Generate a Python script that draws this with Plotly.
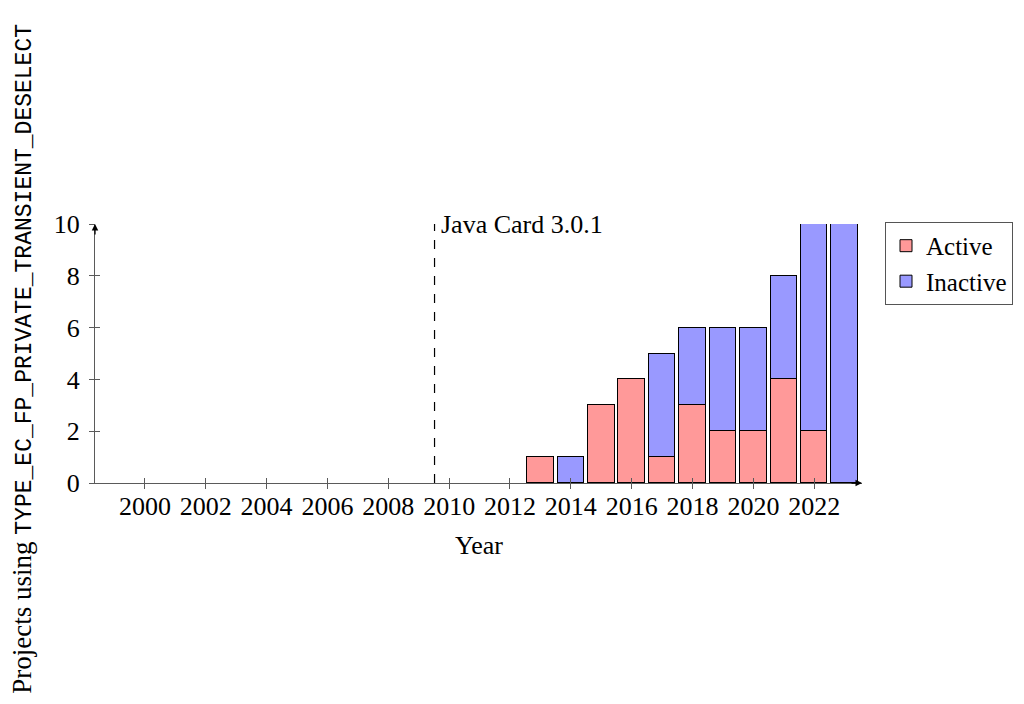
import plotly.graph_objects as go

years = [2013, 2014, 2015, 2016, 2017, 2018, 2019, 2020, 2021, 2022, 2023]
active = [1, 0, 3, 4, 1, 3, 2, 2, 4, 2, 0]
inactive = [0, 1, 0, 0, 4, 3, 4, 4, 4, 8, 10]
x_ticks = list(range(2000, 2023, 2))
y_ticks = [0, 2, 4, 6, 8, 10]
event_year = 2009.52
event_label = "Java Card 3.0.1"
x_title = "Year"
y_title_plain = "Projects using "
y_title_code = "TYPE_EC_FP_PRIVATE_TRANSIENT_DESELECT"

SERIF = "Liberation Serif"
MONO = "Liberation Mono"
AXC = "#5a5a5a"
FS = 26

def nz(v):
    return [None if a == 0 else a for a in v]

fig = go.Figure()
fig.add_trace(go.Bar(x=years, y=nz(active), name="Active", width=0.87,
                     marker=dict(color="#ff9999", line=dict(color="black", width=1))))
fig.add_trace(go.Bar(x=years, y=nz(inactive), name="Inactive", width=0.87,
                     marker=dict(color="#9999ff", line=dict(color="black", width=1))))
# invisible helper trace for the inside-tick overlay axes
fig.add_trace(go.Scatter(x=[2000], y=[0], xaxis="x2", yaxis="y2", mode="markers",
                         marker=dict(opacity=0), showlegend=False, hoverinfo="skip"))

xr = [1998.36, 2023.57]
yr = [0, 10]

# page body has an 8px margin: figure is sized to fit inside it without overflow
L, T, PW, PH = 87, 216, 767, 259
W, H = 1008, 688
fig.update_layout(
    width=W, height=H,
    margin=dict(l=L, r=W - L - PW, t=T, b=H - T - PH, autoexpand=False),
    paper_bgcolor="white", plot_bgcolor="white",
    barmode="stack", bargap=0,
    font=dict(family=SERIF, size=FS, color="black"),
    xaxis=dict(range=xr, tickmode="array", tickvals=x_ticks, ticktext=[str(t) for t in x_ticks],
               showgrid=False, zeroline=False, showline=True, linecolor=AXC, linewidth=1.3,
               ticks="outside", ticklen=5, tickcolor=AXC, tickwidth=1,
               tickfont=dict(family=SERIF, size=FS, color="black"), ticklabelstandoff=-5),
    yaxis=dict(range=yr, tickmode="array", tickvals=y_ticks, ticktext=[str(t) for t in y_ticks],
               showgrid=False, zeroline=False, showline=True, linecolor=AXC, linewidth=1.3,
               ticks="outside", ticklen=5, tickcolor=AXC, tickwidth=1,
               tickfont=dict(family=SERIF, size=FS, color="black"), ticklabelstandoff=4),
    xaxis2=dict(range=xr, overlaying="x", anchor="y2", tickmode="array", tickvals=x_ticks,
                showticklabels=False, showgrid=False, zeroline=False, showline=False,
                ticks="inside", ticklen=5, tickcolor=AXC, tickwidth=1),
    yaxis2=dict(range=yr, overlaying="y", anchor="x2", tickmode="array", tickvals=y_ticks,
                showticklabels=False, showgrid=False, zeroline=False, showline=False,
                ticks="inside", ticklen=5, tickcolor=AXC, tickwidth=1),
    legend=dict(x=(885 - 95) / PW, y=1.008, xanchor="left", yanchor="top",
                bgcolor="white", bordercolor="#555555", borderwidth=1,
                font=dict(family=SERIF, size=25, color="black"),
                tracegroupgap=0, traceorder="normal", itemwidth=30),
    showlegend=True,
)

# event marker
fig.add_shape(type="line", xref="x", yref="y", x0=event_year, x1=event_year, y0=0, y1=10,
              line=dict(color="black", width=1.2, dash="dash"))
fig.add_annotation(xref="x", yref="y", x=event_year, y=10, text=event_label, showarrow=False,
                   xanchor="left", yanchor="middle", xshift=4, font=dict(family=SERIF, size=FS, color="black"))

# axis arrowheads
fig.add_annotation(xref="x", yref="y", x=xr[1], y=0, ax=-12, ay=0, axref="pixel", ayref="pixel",
                   showarrow=True, arrowhead=2, arrowsize=1, arrowwidth=1.3, arrowcolor="black", text="")
fig.add_annotation(xref="x", yref="y", x=xr[0], y=10, ax=0, ay=12, axref="pixel", ayref="pixel",
                   showarrow=True, arrowhead=2, arrowsize=1, arrowwidth=1.3, arrowcolor="black", text="")

# axis titles
fig.add_annotation(xref="paper", yref="paper", x=0.5, y=(483 - 545) / PH, text=x_title,
                   showarrow=False, xanchor="center", yanchor="middle",
                   font=dict(family=SERIF, size=FS, color="black"))
fig.add_annotation(xref="paper", yref="paper", x=(23 - 95) / PW, y=0.48,
                   text='<span style="font-size:27px">' + y_title_plain + '</span>'
                        + '<span style="font-family:' + MONO + ';font-size:23px">' + y_title_code + '</span>',
                   textangle=-90, showarrow=False, xanchor="center", yanchor="middle",
                   font=dict(family=SERIF, size=FS, color="black"))

fig.write_html("out.html")
